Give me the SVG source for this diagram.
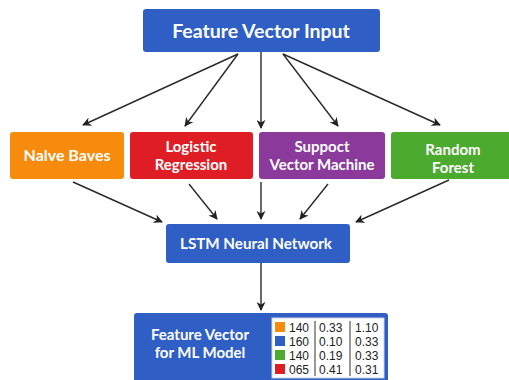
<svg xmlns="http://www.w3.org/2000/svg" width="509" height="380" viewBox="0 0 509 380">
<defs>
<marker id="ah" viewBox="0 0 10 10" refX="9" refY="5" markerWidth="9" markerHeight="9" markerUnits="userSpaceOnUse" orient="auto">
<path d="M0,0 L10,5 L0,10 L3,5 Z" fill="#222"/>
</marker>
<style>
.lbl{font-family:Lato,"Open Sans","Liberation Sans",sans-serif;font-weight:bold;fill:#fff;text-anchor:middle}
.c{stroke:#2a2a2a;stroke-width:1.4;fill:none;marker-end:url(#ah)}
.t{font-family:"Liberation Sans",Arial,sans-serif;font-size:12px;fill:#222}
.blue{fill:#2f5fc4}
</style>
</defs>
<rect width="509" height="380" fill="#fff"/>
<g id="connectors">
<line class="c" x1="238" y1="54" x2="83" y2="125"/>
<line class="c" x1="238" y1="54" x2="185" y2="126"/>
<line class="c" x1="261" y1="52" x2="261" y2="128"/>
<line class="c" x1="283" y1="54" x2="338" y2="126"/>
<line class="c" x1="283" y1="54" x2="440" y2="125"/>
<line class="c" x1="73" y1="182" x2="162" y2="222"/>
<line class="c" x1="189" y1="184" x2="217" y2="219"/>
<line class="c" x1="261" y1="182" x2="261" y2="219"/>
<line class="c" x1="328" y1="184" x2="300" y2="219"/>
<line class="c" x1="449" y1="180" x2="356" y2="222"/>
<line class="c" x1="261" y1="263" x2="261" y2="310"/>
</g>
<g id="input">
<rect class="blue" x="143" y="9" width="237" height="43" rx="3"/>
<text class="lbl" x="261" y="38" font-size="19.5">Feature Vector Input</text>
</g>
<g id="naive-bayes">
<rect x="10" y="132" width="114" height="47" rx="3" fill="#f78b0e"/>
<text class="lbl" x="67" y="161" font-size="16">Nalve Baves</text>
</g>
<g id="logistic">
<rect x="130" y="132" width="123" height="47" rx="3" fill="#de1e24"/>
<text class="lbl" x="191" y="152" font-size="15">Logistic</text>
<text class="lbl" x="191" y="170" font-size="15">Regression</text>
</g>
<g id="svm">
<rect x="259" y="132" width="126" height="47" rx="3" fill="#8b3a9c"/>
<text class="lbl" x="322" y="152" font-size="15">Suppoct</text>
<text class="lbl" x="322" y="170" font-size="15">Vector Machine</text>
</g>
<g id="random-forest">
<rect x="391" y="132" width="125" height="47" rx="3" fill="#4caa2f"/>
<text class="lbl" x="453" y="155" font-size="15">Random</text>
<text class="lbl" x="453" y="173" font-size="15">Forest</text>
</g>
<g id="lstm">
<rect class="blue" x="166" y="224" width="184" height="39" rx="3"/>
<text class="lbl" x="256" y="249" font-size="15.2">LSTM Neural Network</text>
</g>
<g id="output">
<rect class="blue" x="134" y="313" width="254" height="75" rx="3"/>
<text class="lbl" x="200" y="340" font-size="15">Feature Vector</text>
<text class="lbl" x="200" y="358" font-size="15">for ML Model</text>
<rect x="272" y="318" width="112" height="60" fill="#fff" stroke="#c9d3e8" stroke-width="1"/>
<rect x="275" y="322" width="10" height="10" fill="#f78b0e"/>
<rect x="275" y="336" width="10" height="10" fill="#2f5fc4"/>
<rect x="275" y="350" width="10" height="10" fill="#4caa2f"/>
<rect x="275" y="364" width="10" height="10" fill="#de1e24"/>
<line x1="315" y1="321" x2="315" y2="376" stroke="#333" stroke-width="1"/>
<line x1="350" y1="321" x2="350" y2="376" stroke="#333" stroke-width="1"/>
<text class="t" x="289" y="332">140</text>
<text class="t" x="289" y="346">160</text>
<text class="t" x="289" y="360">140</text>
<text class="t" x="289" y="374">065</text>
<text class="t" x="319" y="332">0.33</text>
<text class="t" x="319" y="346">0.10</text>
<text class="t" x="319" y="360">0.19</text>
<text class="t" x="319" y="374">0.41</text>
<text class="t" x="355" y="332">1.10</text>
<text class="t" x="355" y="346">0.33</text>
<text class="t" x="355" y="360">0.33</text>
<text class="t" x="355" y="374">0.31</text>
</g>
</svg>
